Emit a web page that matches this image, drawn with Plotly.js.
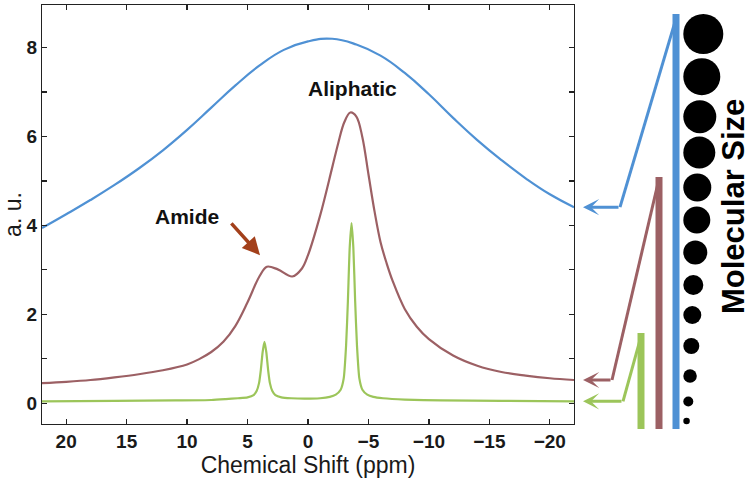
<!DOCTYPE html>
<html>
<head>
<meta charset="utf-8">
<script src="https://cdn.plot.ly/plotly-3.0.1.min.js"></script>
<style>
  html, body { margin: 0; padding: 0; background: #fff; }
  #chart { width: 750px; height: 479px; }
</style>
</head>
<body>
<div id="chart"></div>
<script>
// values (ppm, a.u.)
const blueShift = [22, 20, 18, 16, 14, 12, 10, 8, 6, 4, 2, 0, -2, -4, -6, -8, -10, -12, -14, -16, -18, -20, -22];
const blueAmp = [3.94, 4.25, 4.57, 4.91, 5.28, 5.69, 6.15, 6.65, 7.15, 7.60, 7.95, 8.14, 8.20, 8.07, 7.82, 7.43, 6.95, 6.42, 5.92, 5.47, 5.06, 4.70, 4.41];

const brownShift = [22, 20, 18, 16, 14, 12, 10, 9, 8, 7, 6, 5, 4, 3.4, 2.5, 1.3, 0.5, 0, -1, -2, -2.5, -3, -3.5, -4, -4.5, -5, -5.5, -6, -6.5, -7, -8, -9, -10, -12, -14, -16, -18, -20, -22];
const brownAmp = [0.45, 0.48, 0.52, 0.58, 0.65, 0.74, 0.87, 0.99, 1.15, 1.38, 1.74, 2.27, 2.86, 3.07, 3.01, 2.85, 3.03, 3.33, 4.22, 5.30, 5.85, 6.32, 6.54, 6.45, 5.98, 5.15, 4.32, 3.62, 3.15, 2.75, 2.12, 1.72, 1.44, 1.07, 0.84, 0.70, 0.62, 0.56, 0.52];

const greenShift = [22, 16, 11, 8, 6.8, 5.8, 5.0, 4.5, 4.25, 4.05, 3.9, 3.75, 3.6, 3.45, 3.3, 3.15, 2.95, 2.7, 2.2, 1.4, 0.3,
  -1.0, -1.8, -2.3, -2.7, -2.95, -3.15, -3.3, -3.45, -3.6, -3.75, -3.9, -4.05, -4.25, -4.5, -4.9, -5.4, -6.2, -8, -11, -16, -22];
const greenAmp = [0.04, 0.05, 0.06, 0.07, 0.09, 0.11, 0.13, 0.18, 0.27, 0.45, 0.75, 1.15, 1.38, 1.15, 0.75, 0.45, 0.27, 0.18, 0.13, 0.11, 0.1,
  0.11, 0.14, 0.19, 0.3, 0.55, 1.3, 2.3, 3.5, 4.05, 3.5, 2.3, 1.3, 0.55, 0.3, 0.19, 0.14, 0.11, 0.08, 0.06, 0.05, 0.04];

const xTicks = [20, 15, 10, 5, 0, -5, -10, -15, -20];
const yTicks = [0, 1, 2, 3, 4, 5, 6, 7, 8];
const yTickText = ['0', '', '2', '', '4', '', '6', '', '8'];

// molecular size scale on the right (dot diameters, largest first)
const dotSizes = [40, 37, 33, 32, 28, 27, 24, 20, 18, 16, 13.5, 10, 6.5];

const BLUE = '#4f91d4';
const BROWN = '#9c6064';
const GREEN = '#9cc55a';
const FONT = 'Liberation Sans, Arial, Helvetica, sans-serif';

function lastOf(arr) {
  return arr[arr.length - 1];
}

// pixel column of the schematic, top to bottom
const dotY = [34, 76.7, 116.7, 152.5, 187.5, 220, 252.5, 285, 315, 346, 376, 401.5, 421];

let data = [];

data.push({ x: blueShift, y: blueAmp, mode: 'lines', line: { color: BLUE, width: 2.2, shape: 'spline', smoothing: 1.3 }, name: 'large' });
data.push({ x: brownShift, y: brownAmp, mode: 'lines', line: { color: BROWN, width: 2.2, shape: 'spline', smoothing: 1.0 }, name: 'medium' });
data.push({ x: greenShift, y: greenAmp, mode: 'lines', line: { color: GREEN, width: 2.2, shape: 'spline', smoothing: 0.6 }, name: 'small' });

// the dots, on a helper axis pair measured in pixels
data.push({
  x: dotSizes.map(d => 683.3 + d / 2),
  y: dotY,
  xaxis: 'x2',
  yaxis: 'y2',
  mode: 'markers',
  marker: { size: dotSizes, color: '#000', opacity: 1, line: { width: 0 } },
  cliponaxis: false,
  hoverinfo: 'skip'
});

let shapes = [];
// vertical bars
[[641, 333, GREEN], [659, 177, BROWN], [676, 14, BLUE]].forEach(function(b) {
  shapes.push({ type: 'line', xref: 'x2', yref: 'y2', x0: b[0], x1: b[0], y0: b[1], y1: 429, line: { color: b[2], width: 7 } });
});
// diagonal legs from each bar top down to its arrow
[[620, blueAmp, 675, 8.58, BLUE], [612, brownAmp, 659, 5.05, BROWN], [623, greenAmp, 641, 1.5, GREEN]].forEach(function(d) {
  shapes.push({ type: 'line', xref: 'x2', yref: 'y', x0: d[0], y0: lastOf(d[1]), x1: d[2], y1: d[3], line: { color: d[4], width: 3 } });
});

let annotations = [
  { x: -3.64, y: 7.07, text: 'Aliphatic', showarrow: false, font: { family: FONT, size: 21, color: '#111', weight: 'bold' } },
  { x: 10.0, y: 4.21, text: 'Amide', showarrow: false, font: { family: FONT, size: 21, color: '#111', weight: 'bold' } },
  { x: 3.97, y: 3.33, ax: 6.45, ay: 4.08, axref: 'x', ayref: 'y', text: '', showarrow: true,
    arrowhead: 2, arrowsize: 1, arrowwidth: 3.5, arrowcolor: '#a3401b' },
  { xref: 'x2', yref: 'y2', x: 733, y: 207, text: 'Molecular Size', textangle: -90, showarrow: false,
    font: { family: FONT, size: 31, color: '#000', weight: 'bold' } }
];
// arrows pointing back at the tail of each curve
[[blueAmp, 620, BLUE], [brownAmp, 612, BROWN], [greenAmp, 623, GREEN]].forEach(function(a) {
  annotations.push({ xref: 'x2', yref: 'y', x: 583, y: lastOf(a[0]), axref: 'x2', ayref: 'y', ax: a[1], ay: lastOf(a[0]),
    text: '', showarrow: true, arrowhead: 3, arrowsize: 0.9, arrowwidth: 3, arrowcolor: a[2] });
});

const axisCommon = {
  showline: true, linecolor: '#222', linewidth: 1.2, mirror: 'ticks',
  ticks: 'inside', ticklen: 5, tickwidth: 1.2, tickcolor: '#222',
  showgrid: false, zeroline: false,
  tickfont: { family: FONT, size: 19, color: '#1a1a1a', weight: 'bold' }
};

let layout = {
  width: 750,
  height: 479,
  margin: { l: 42, r: 0, t: 0, b: 0, pad: 0 },
  paper_bgcolor: '#fff',
  plot_bgcolor: '#fff',
  showlegend: false,
  font: { family: FONT, color: '#1a1a1a' },
  xaxis: Object.assign({}, axisCommon, {
    domain: [0, 532 / 708], anchor: 'y',
    range: [22, -22], tickvals: xTicks,
    title: { text: 'Chemical Shift (ppm)', font: { family: FONT, size: 23, color: '#1a1a1a' }, standoff: 1 }
  }),
  yaxis: Object.assign({}, axisCommon, {
    domain: [55 / 479, 474 / 479], anchor: 'x',
    range: [-0.47, 8.96], tickvals: yTicks, ticktext: yTickText,
    title: { text: 'a. u.', font: { family: FONT, size: 23, color: '#1a1a1a' }, standoff: 7 }
  }),
  xaxis2: { domain: [532 / 708, 1], anchor: 'y2', range: [574, 750], visible: false, fixedrange: true },
  yaxis2: { domain: [0, 1], anchor: 'x2', range: [479, 0], visible: false, fixedrange: true },
  shapes: shapes,
  annotations: annotations
};

Plotly.newPlot('chart', data, layout, { staticPlot: true });
</script>
</body>
</html>
